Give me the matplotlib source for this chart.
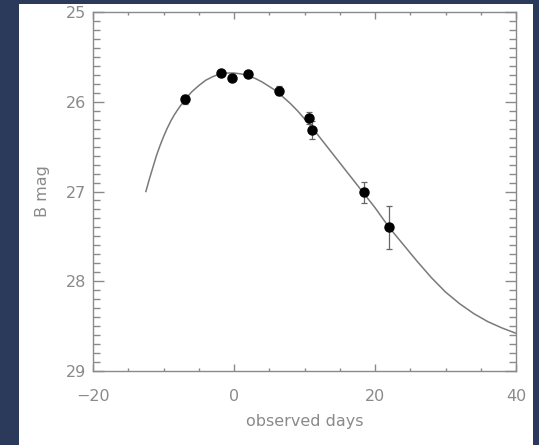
import matplotlib
matplotlib.use("Agg")
import matplotlib.pyplot as plt
from matplotlib.patches import Rectangle
from matplotlib.ticker import MultipleLocator

# Observed photometry
days = [-6.95, -1.9, -0.33, 1.94, 6.4, 10.7, 11.1, 18.4, 22.0]
bmag = [25.97, 25.68, 25.73, 25.69, 25.88, 26.18, 26.32, 27.01, 27.40]
berr = [0.05, 0.03, 0.03, 0.03, 0.05, 0.07, 0.10, 0.12, 0.24]

# Model light curve
model_days = [-12.5, -12.0, -11.5, -11.0, -10.5, -10.0, -9.5, -9.0, -8.5, -8.0, -7.0, -6.0,
              -5.0, -4.0, -3.0, -2.0, -1.0,
              0.0, 1.0, 2.0, 3.0, 4.0, 5.0, 6.0, 7.0, 8.0, 9.0, 10.0, 11.0, 12.0,
              13.0, 14.0, 15.0, 16.0, 17.0, 18.0, 19.0, 20.0, 22.0, 24.0, 26.0,
              28.0, 30.0, 32.0, 34.0, 36.0, 38.0, 40.0]
model_mag = [27.00, 26.86, 26.73, 26.60, 26.49, 26.39, 26.30, 26.22, 26.15, 26.09, 25.98, 25.89,
             25.82, 25.76, 25.72, 25.69, 25.68,
             25.68, 25.69, 25.71, 25.74, 25.78, 25.83, 25.88, 25.95, 26.02, 26.10, 26.19, 26.28, 26.38,
             26.48, 26.58, 26.68, 26.78, 26.88, 26.98, 27.08, 27.18, 27.40, 27.59, 27.78,
             27.96, 28.12, 28.25, 28.36, 28.45, 28.52, 28.58]

xticks = [-20, 0, 20, 40]
yticks = [25, 26, 27, 28, 29]

W, H = 539, 445
fig = plt.figure(figsize=(W / 100, H / 100), dpi=100, facecolor="#2b3a5b")
bg = fig.add_axes([0, 0, 1, 1], zorder=-5)
bg.set_axis_off()
bg.set_xlim(0, 1)
bg.set_ylim(0, 1)
bg.add_patch(Rectangle((19 / W, 0), (533 - 19) / W, 1 - 4 / H,
                       facecolor="white", edgecolor="none"))

ax = fig.add_axes([93 / W, 1 - 371 / H, (516 - 93) / W, (371 - 12) / H], zorder=1)
ax.set_facecolor("white")

grey = "#8a8a8a"
ax.plot(model_days, model_mag, color="#7a7a7a", lw=1.1, zorder=2)
ax.errorbar(days, bmag, yerr=berr, fmt="o", color="black", ms=6.5,
            ecolor="#666666", elinewidth=0.9, capsize=2, capthick=0.9, zorder=3)

ax.set_xlim(-20, 40)
ax.set_ylim(29, 25)
ax.set_xticks(xticks)
ax.set_yticks(yticks)
ax.xaxis.set_minor_locator(MultipleLocator(5))
ax.yaxis.set_minor_locator(MultipleLocator(0.1))

for s in ax.spines.values():
    s.set_color(grey)
    s.set_linewidth(1.0)

ax.tick_params(which="both", direction="in", top=True, right=True, color=grey)
ax.tick_params(axis="x", which="major", length=5, width=1, pad=13, labelsize=11.5, labelcolor=grey)
ax.tick_params(axis="x", which="minor", length=2.5, width=1)
ax.tick_params(axis="y", which="major", length=8, width=1, pad=5, labelsize=11.5, labelcolor=grey)
ax.tick_params(axis="y", which="minor", length=5, width=1)

ax.set_xlabel("observed days", color=grey, fontsize=11.5, labelpad=7)
ax.set_ylabel("B mag", color=grey, fontsize=11.5, labelpad=11)

fig.savefig("out.png", dpi=100, facecolor=fig.get_facecolor())
